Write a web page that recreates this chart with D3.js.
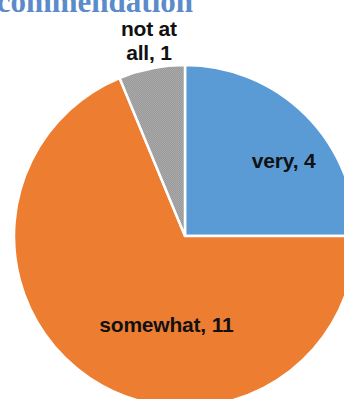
<!DOCTYPE html>
<html>
<head>
<meta charset="utf-8">
<script src="https://cdn.jsdelivr.net/npm/d3@7"></script>
<style>
  html, body { margin: 0; padding: 0; background: #fff; }
  svg { display: block; }
</style>
</head>
<body>
<svg id="chart" width="344" height="399"></svg>
<script>
// Survey answers for the recommendation question
const categories = ["very", "somewhat", "not at all"];
const counts = [4, 11, 1];
const colors = ["#5b9bd5", "#ed7d31", "url(#greyDots)"];
const titleText = "Recommendation";

const width = 344, height = 399;
const cx = 185, cy = 236, radius = 171;

const svg = d3.select("#chart");

// fine dithered texture for the grey slice
const defs = svg.append("defs");
const pat = defs.append("pattern")
  .attr("id", "greyDots")
  .attr("patternUnits", "userSpaceOnUse")
  .attr("width", 2).attr("height", 2);
pat.append("rect").attr("width", 2).attr("height", 2).attr("fill", "#aaaaaa");
pat.append("rect").attr("width", 1).attr("height", 1).attr("fill", "#999999");
pat.append("rect").attr("x", 1).attr("y", 1).attr("width", 1).attr("height", 1).attr("fill", "#999999");

// title, mostly above the visible area
svg.append("text")
  .attr("x", 193).attr("y", 12)
  .attr("text-anchor", "end")
  .attr("font-family", "'Liberation Serif', 'Times New Roman', serif")
  .attr("font-weight", "bold")
  .attr("font-size", 31)
  .attr("fill", "#5b8bcb")
  .text(titleText);

const data = categories.map((c, i) => ({ name: c, value: counts[i], color: colors[i] }));

const pie = d3.pie().sort(null).value(d => d.value);
const arc = d3.arc().innerRadius(0).outerRadius(radius);
const arcs = pie(data);

const g = svg.append("g").attr("transform", `translate(${cx},${cy})`);

g.selectAll("path.slice")
  .data(arcs)
  .join("path")
  .attr("class", "slice")
  .attr("d", arc)
  .attr("fill", d => d.data.color)
  .attr("stroke", "#fff")
  .attr("stroke-width", 2.5)
  .attr("stroke-linejoin", "miter");

// label placement: polar offset (angle shift in degrees, distance) from the slice middle
const labelPlacement = {
  "very": { shift: 7.7, dist: 124 },
  "somewhat": { shift: -21.8, dist: 90 },
  "not at all": { shift: 0.8, dist: 199 }
};
const labelLines = d => d.data.name === "not at all"
  ? ["not at", "all, " + d.data.value]
  : [d.data.name + ", " + d.data.value];

g.selectAll("text.lbl")
  .data(arcs)
  .join("text")
  .attr("class", "lbl")
  .attr("text-anchor", "middle")
  .attr("font-family", "'Liberation Sans', Arial, sans-serif")
  .attr("font-weight", "bold")
  .attr("font-size", 21)
  .attr("letter-spacing", -0.2)
  .attr("fill", "#111")
  .each(function (d) {
    const p = labelPlacement[d.data.name];
    const a = (d.startAngle + d.endAngle) / 2 + p.shift * Math.PI / 180;
    const x = Math.sin(a) * p.dist;
    const y = -Math.cos(a) * p.dist;
    const lines = labelLines(d);
    const lh = 23.5;
    const t = d3.select(this);
    lines.forEach((ln, i) => {
      t.append("tspan")
        .attr("x", x)
        .attr("y", y + 7.5 + (i - (lines.length - 1) / 2) * lh)
        .text(ln);
    });
  });
</script>
</body>
</html>
